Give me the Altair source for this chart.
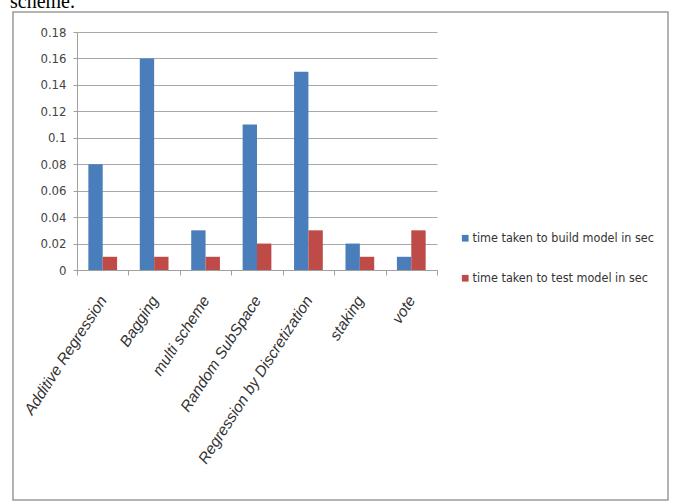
import altair as alt
import pandas as pd

categories = ["Additive Regression", "Bagging", "multi scheme", "Random SubSpace",
              "Regression by Discretization", "staking", "vote"]
build_times = [0.08, 0.16, 0.03, 0.11, 0.15, 0.02, 0.01]
test_times = [0.01, 0.01, 0.01, 0.02, 0.03, 0.01, 0.03]
series_names = ["time taken to build model in sec", "time taken to test model in sec"]
y_ticks = [0, 0.02, 0.04, 0.06, 0.08, 0.1, 0.12, 0.14, 0.16, 0.18]
colors = ["#4a7ebb", "#be4b48"]

rows = []
for c, b, t in zip(categories, build_times, test_times):
    rows.append({"category": c, "series": series_names[0], "value": b})
    rows.append({"category": c, "series": series_names[1], "value": t})
df = pd.DataFrame(rows)

W, H = 360, 238
narrow = "Liberation Sans Narrow, DejaVu Sans Condensed, Liberation Sans, sans-serif"
axis_gray = "#a0a0a0"

one = pd.DataFrame({"a": [0]})

border = alt.Chart(one).mark_rect(filled=False, stroke="#9a9a9a", strokeWidth=1.5).encode(
    x=alt.value(-64), x2=alt.value(591), y=alt.value(-20), y2=alt.value(468)
)

caption = alt.Chart(one).mark_text(
    font="Liberation Serif", fontSize=20, color="#000", align="left", baseline="alphabetic"
).encode(x=alt.value(-67), y=alt.value(-24), text=alt.value("scheme."))

bars = alt.Chart(df).mark_bar().encode(
    x=alt.X("category:N", sort=categories,
            scale=alt.Scale(paddingInner=0, paddingOuter=0),
            axis=alt.Axis(title=None, labelAngle=303, labelAlign="right", labelBaseline="middle",
                          labelFont="Liberation Sans", labelFontStyle="italic", labelFontSize=15.5,
                          labelColor="#333", labelPadding=22, labelLimit=400,
                          tickBand="extent", tickSize=5, tickColor=axis_gray,
                          domainColor=axis_gray, grid=False)),
    xOffset=alt.XOffset("series:N", sort=series_names,
                        scale=alt.Scale(domain=series_names, paddingInner=0, paddingOuter=0.79)),
    y=alt.Y("value:Q", scale=alt.Scale(domain=[0, 0.18], nice=False),
            axis=alt.Axis(title=None, values=y_ticks, format="~g", labelFont=narrow,
                          labelFontSize=13, labelColor="#444", labelPadding=7,
                          tickSize=4, tickColor=axis_gray, domainColor=axis_gray,
                          gridColor="#a8a8a8", gridWidth=1)),
    color=alt.Color("series:N", sort=series_names,
                    scale=alt.Scale(domain=series_names, range=colors),
                    legend=alt.Legend(title=None, orient="none", legendX=382, legendY=200,
                                      symbolType="square", symbolSize=45, symbolStrokeWidth=0,
                                      labelFont=narrow, labelFontSize=12.5, labelColor="#333",
                                      rowPadding=27, labelOffset=1, labelLimit=300)),
)

chart = alt.layer(border, caption, bars).properties(
    width=W, height=H,
    autosize=alt.AutoSizeParams(type="none"),
    padding={"left": 77, "top": 32, "right": 238, "bottom": 232},
    background="white",
).configure_view(stroke=None)

chart.save("out.html", embed_options={"renderer": "svg", "actions": False})
